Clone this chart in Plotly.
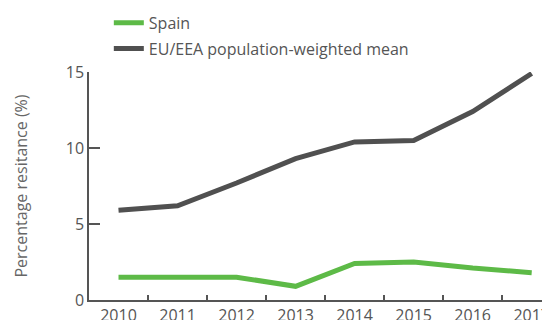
import plotly.graph_objects as go

years = ["2010", "2011", "2012", "2013", "2014", "2015", "2016", "2017"]
spain = [1.5, 1.5, 1.5, 0.9, 2.4, 2.5, 2.1, 1.8]
eu_mean = [5.9, 6.2, 7.7, 9.3, 10.4, 10.5, 12.4, 14.9]
y_ticks = [0, 5, 10, 15]

FONT = "Open Sans"
GREY = "#555555"

fig = go.Figure()
fig.add_trace(go.Scatter(x=years, y=spain, mode="lines", name="Spain", legendgroup="a",
                         line=dict(color="#5dba47", width=5)))
fig.add_trace(go.Scatter(x=years, y=eu_mean, mode="lines", name="EU/EEA population-weighted mean",
                         legendgroup="b", line=dict(color="#505050", width=5)))

fig.update_layout(
    width=542, height=312,
    margin=dict(l=81, r=0, t=64, b=20, autoexpand=False),
    paper_bgcolor="white", plot_bgcolor="white",
    font=dict(family=FONT, color=GREY, size=16),
    showlegend=True,
    legend=dict(x=0.043, y=1.29, xanchor="left", yanchor="top",
                font=dict(size=16, color=GREY), itemwidth=30,
                tracegroupgap=2, bgcolor="rgba(0,0,0,0)"),
    xaxis=dict(type="category", range=[-0.5, 7.31], tickson="boundaries",
               ticks="inside", ticklen=5, tickcolor=GREY, tickwidth=1.5,
               showline=True, linecolor=GREY, linewidth=1.5,
               showgrid=False, zeroline=False,
               tickfont=dict(size=16, color=GREY)),
    yaxis=dict(range=[0, 15], tickvals=y_ticks, ticks="inside", ticklen=11,
               tickcolor=GREY, tickwidth=1.5,
               showline=True, linecolor=GREY, linewidth=1.5,
               showgrid=False, zeroline=False,
               tickfont=dict(size=16, color=GREY),
               title=dict(text="Percentage resitance (%)", font=dict(size=16, color="#666666"), standoff=34)),
)

fig.write_html("out.html")
